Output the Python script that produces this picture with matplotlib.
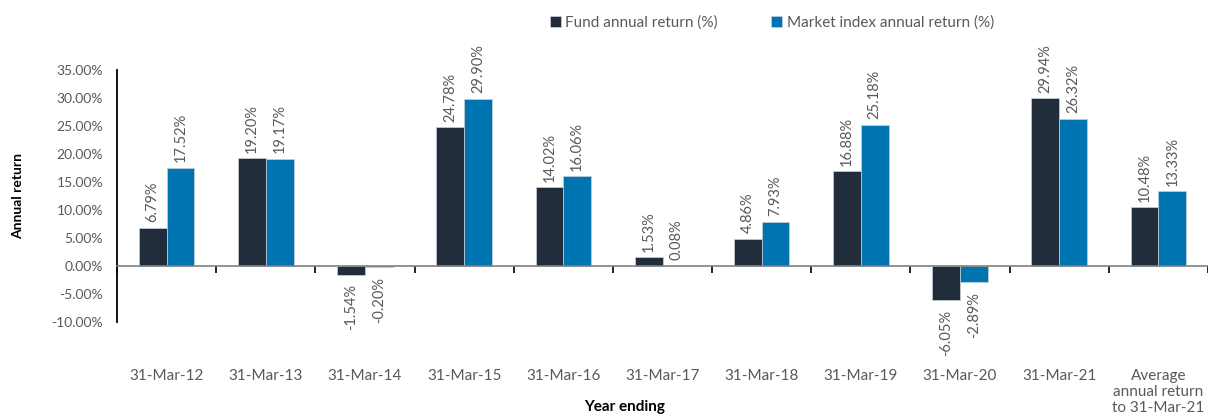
import matplotlib
matplotlib.use("Agg")
import matplotlib.pyplot as plt
import matplotlib.transforms as mtransforms
import numpy as np

categories = ["31-Mar-12", "31-Mar-13", "31-Mar-14", "31-Mar-15", "31-Mar-16",
              "31-Mar-17", "31-Mar-18", "31-Mar-19", "31-Mar-20", "31-Mar-21",
              "Average\nannual return\nto 31-Mar-21"]
fund = [6.79, 19.20, -1.54, 24.78, 14.02, 1.53, 4.86, 16.88, -6.05, 29.94, 10.48]
market = [17.52, 19.17, -0.20, 29.90, 16.06, 0.08, 7.93, 25.18, -2.89, 26.32, 13.33]
series_names = ["Fund annual return (%)", "Market index annual return (%)"]
yticks = [-10, -5, 0, 5, 10, 15, 20, 25, 30, 35]

plt.rcParams['font.family'] = ['Lato', 'DejaVu Sans']
GRAY = '#595959'
C_FUND = '#222d3b'
C_MKT = '#0073b1'

fig = plt.figure(figsize=(12.08, 4.16), dpi=100)
ax = fig.add_axes([117/1208, 1 - 322/416, 1 - 117/1208, (322 - 70)/416])

x = np.arange(len(categories))
w = 0.28
b1 = ax.bar(x - w/2, fund, w, color=C_FUND, edgecolor='#c9d1d9', linewidth=0.5, label=series_names[0], zorder=2)
b2 = ax.bar(x + w/2, market, w, color=C_MKT, edgecolor='#c9d1d9', linewidth=0.5, label=series_names[1], zorder=2)

for bars, vals in ((b1, fund), (b2, market)):
    for rect, v in zip(bars, vals):
        cx = rect.get_x() + rect.get_width()/2
        if v >= 0:
            ax.annotate(f"{v:.2f}%", (cx, v), xytext=(0, 4), textcoords='offset points',
                        rotation=90, ha='center', va='bottom', fontsize=10.5, color=GRAY)
        else:
            ax.annotate(f"{v:.2f}%", (cx, v), xytext=(0, -7), textcoords='offset points',
                        rotation=90, ha='center', va='top', fontsize=10.5, color=GRAY)

ax.set_xlim(-0.5, len(categories) - 0.5)
ax.set_ylim(-10, 35)
ax.set_yticks(yticks)
ax.set_yticklabels([f"{t:.2f}%" for t in yticks], fontsize=10, color=GRAY)
ax.tick_params(axis='y', length=0, pad=10)

ax.spines['top'].set_visible(False)
ax.spines['right'].set_visible(False)
ax.spines['left'].set_color('black')
ax.spines['left'].set_linewidth(1.3)
ax.spines['bottom'].set_position(('data', 0))
ax.spines['bottom'].set_color('#808080')
ax.spines['bottom'].set_linewidth(1.2)

ax.set_xticks(np.arange(len(categories) + 1) - 0.5)
ax.set_xticklabels([])
ax.tick_params(axis='x', length=5, width=1.2, color='black', direction='out')

trans = mtransforms.blended_transform_factory(ax.transData, ax.transAxes)
for i, c in enumerate(categories):
    ax.text(i, -0.185, c, transform=trans, ha='center', va='top', fontsize=11,
            color=GRAY, linespacing=1.2)

fig.text(18/1208, 1 - 196/416, "Annual return", rotation=90, ha='center', va='center',
         fontsize=10, fontweight='bold', color='black')
fig.text(625/1208, 1 - 414/416, "Year ending", ha='center', va='bottom',
         fontsize=11, fontweight='bold', color='black')

fig.legend(handles=[b1, b2], labels=series_names, loc='center',
           bbox_to_anchor=(772/1208, 1 - 23/416), ncol=2, frameon=False,
           handlelength=0.7, handleheight=0.7, handletextpad=0.3, columnspacing=3.5,
           fontsize=11, labelcolor=GRAY)

fig.savefig("out.png", dpi=100)
